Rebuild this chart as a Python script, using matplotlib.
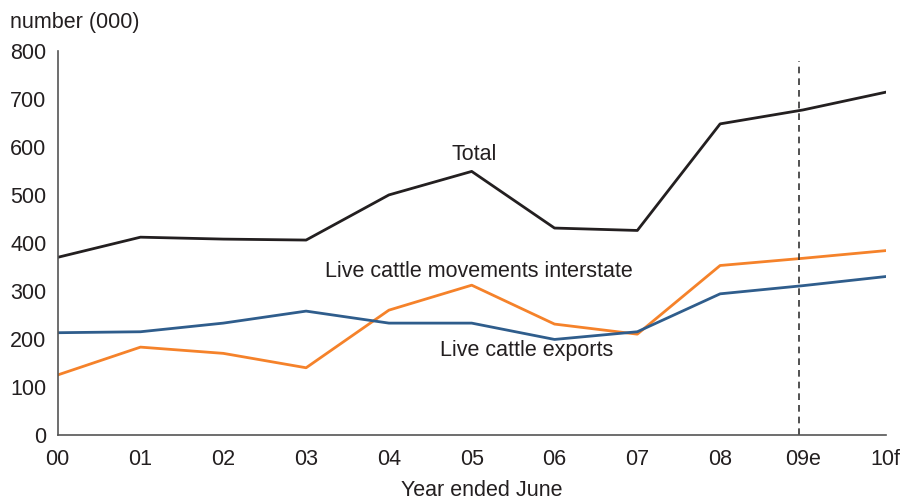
import matplotlib

matplotlib.use("Agg")
import matplotlib.pyplot as plt

years = ["00", "01", "02", "03", "04", "05", "06", "07", "08", "09e", "10f"]
total = [370, 412, 408, 406, 500, 549, 431, 426, 648, 677, 714]
interstate = [125, 183, 170, 140, 260, 312, 231, 210, 353, 368, 384]
exports = [213, 215, 233, 258, 233, 233, 199, 215, 294, 311, 330]
forecast_split = 8.95
forecast_top = 780

plt.rcParams.update({"font.family": ["Liberation Sans", "DejaVu Sans"]})

fig = plt.figure(figsize=(9.04, 4.99), dpi=100)
ax = fig.add_axes([0.0638, 0.1283, 0.916, 0.7697])

x = list(range(len(years)))
ax.plot(x, total, color="#231f20", linewidth=2.0)
ax.plot(x, interstate, color="#f5822a", linewidth=2.0)
ax.plot(x, exports, color="#2f5d8c", linewidth=2.0)
ax.plot([forecast_split, forecast_split], [0, forecast_top], color="#333333",
        linewidth=1.2, linestyle=(0, (4, 3)))

ax.set_xlim(0, len(years) - 1)
ax.set_ylim(0, 800)
ax.set_xticks(x)
ax.set_xticklabels(years)
ax.set_yticks(range(0, 801, 100))

for side in ("top", "right"):
    ax.spines[side].set_visible(False)
for side in ("left", "bottom"):
    ax.spines[side].set_color("#555555")
    ax.spines[side].set_linewidth(1.2)

fs = 15.5
ax.tick_params(axis="both", length=0, labelsize=fs, colors="#231f20")
ax.tick_params(axis="y", pad=8.2)
ax.tick_params(axis="x", pad=10)

fig.text(0.011, 0.955, "number (000)", fontsize=fs, ha="left", va="center", color="#231f20")
fig.text(0.533, 0.018, "Year ended June", fontsize=fs, ha="center", va="center", color="#231f20")

ax.text(4.76, 585, "Total", fontsize=fs, ha="left", va="center", color="#231f20")
ax.text(3.23, 340, "Live cattle movements interstate", fontsize=fs, ha="left",
        va="center", color="#231f20")
ax.text(4.62, 175, "Live cattle exports", fontsize=fs, ha="left", va="center",
        color="#231f20")

fig.savefig("out.png", dpi=100)
